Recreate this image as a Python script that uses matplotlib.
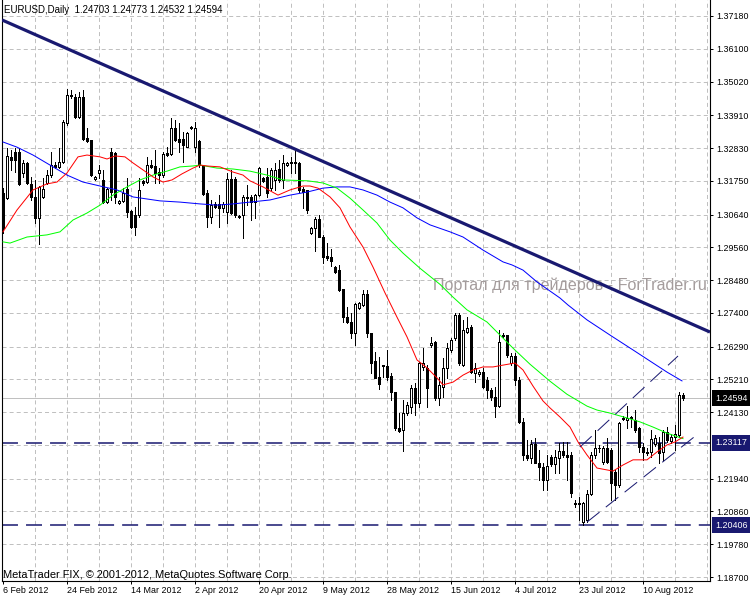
import matplotlib
matplotlib.use('Agg')
import matplotlib.pyplot as plt
import matplotlib.transforms as mtransforms
import numpy as np

plt.rcParams['lines.scale_dashes'] = False
plt.rcParams['font.family'] = ['Liberation Sans Narrow', 'Liberation Sans', 'DejaVu Sans']
plt.rcParams['font.size'] = 6.4

NAVY = '#191970'

# EURUSD daily bars, 6 Feb 2012 .. 21 Aug 2012 (broker feed with Sunday bars)
opens = [1.3135, 1.3118, 1.3254, 1.3270, 1.3270, 1.3201, 1.3234, 1.3165, 1.3122, 1.3053,
         1.3122, 1.3168, 1.3194, 1.3227, 1.3221, 1.3237, 1.3366, 1.3458, 1.3451, 1.3385,
         1.3451, 1.3316, 1.3310, 1.3181, 1.3201, 1.3178, 1.3105, 1.3270, 1.3267, 1.3102,
         1.3109, 1.3148, 1.3076, 1.3062, 1.3062, 1.3175, 1.3171, 1.3227, 1.3224, 1.3204,
         1.3194, 1.3267, 1.3263, 1.3349, 1.3313, 1.3313, 1.3286, 1.3352, 1.3286, 1.3306,
         1.3224, 1.3135, 1.3056, 1.3099, 1.3099, 1.3086, 1.3072, 1.3181, 1.3181, 1.3059,
         1.3062, 1.3122, 1.3122, 1.3105, 1.3128, 1.3184, 1.3188, 1.3151, 1.3178, 1.3214,
         1.3178, 1.3227, 1.3237, 1.3237, 1.3234, 1.3148, 1.3145, 1.3003, 1.3020, 1.3049,
         1.2990, 1.2927, 1.2924, 1.2891, 1.2881, 1.2819, 1.2726, 1.2710, 1.2674, 1.2756,
         1.2766, 1.2802, 1.2674, 1.2582, 1.2529, 1.2568, 1.2565, 1.2532, 1.2479, 1.2361,
         1.2354, 1.2410, 1.2430, 1.2493, 1.2443, 1.2562, 1.2559, 1.2634, 1.2644, 1.2460,
         1.2496, 1.2559, 1.2618, 1.2657, 1.2733, 1.2568, 1.2677, 1.2694, 1.2542, 1.2539,
         1.2545, 1.2519, 1.2486, 1.2463, 1.2433, 1.2667, 1.2667, 1.2575, 1.2598, 1.2519,
         1.2381, 1.2272, 1.2262, 1.2308, 1.2246, 1.2232, 1.2190, 1.2265, 1.2242, 1.2262,
         1.2285, 1.2272, 1.2272, 1.2114, 1.2114, 1.2051, 1.2058, 1.2143, 1.2272, 1.2295,
         1.2249, 1.2295, 1.2288, 1.2216, 1.2173, 1.2394, 1.2387, 1.2397, 1.2387, 1.2361,
         1.2298, 1.2282, 1.2282, 1.2308, 1.2311, 1.2282, 1.2348, 1.2318, 1.2331, 1.2338,
         1.24703]
highs = [1.3151, 1.3283, 1.3277, 1.3283, 1.3283, 1.3244, 1.3237, 1.3188, 1.3178, 1.3158,
         1.3184, 1.3211, 1.3270, 1.3237, 1.3283, 1.3375, 1.3478, 1.3474, 1.3461, 1.3468,
         1.3474, 1.3349, 1.3310, 1.3191, 1.3227, 1.3211, 1.3151, 1.3283, 1.3270, 1.3112,
         1.3151, 1.3184, 1.3079, 1.3089, 1.3184, 1.3178, 1.3254, 1.3244, 1.3277, 1.3217,
         1.3270, 1.3286, 1.3382, 1.3375, 1.3366, 1.3336, 1.3336, 1.3356, 1.3369, 1.3310,
         1.3227, 1.3145, 1.3112, 1.3105, 1.3128, 1.3105, 1.3201, 1.3211, 1.3188, 1.3062,
         1.3128, 1.3161, 1.3128, 1.3132, 1.3221, 1.3188, 1.3217, 1.3217, 1.3234, 1.3244,
         1.3260, 1.3237, 1.3254, 1.3280, 1.3237, 1.3155, 1.3145, 1.3023, 1.3056, 1.3062,
         1.2997, 1.2970, 1.2951, 1.2895, 1.2898, 1.2819, 1.2759, 1.2740, 1.2773, 1.2776,
         1.2815, 1.2815, 1.2674, 1.2611, 1.2595, 1.2568, 1.2618, 1.2542, 1.2479, 1.2410,
         1.2453, 1.2447, 1.2503, 1.2509, 1.2578, 1.2624, 1.2568, 1.2661, 1.2647, 1.2529,
         1.2591, 1.2641, 1.2657, 1.2740, 1.2740, 1.2717, 1.2726, 1.2700, 1.2575, 1.2552,
         1.2559, 1.2529, 1.2493, 1.2496, 1.2684, 1.2674, 1.2667, 1.2608, 1.2608, 1.2529,
         1.2394, 1.2321, 1.2321, 1.2328, 1.2288, 1.2246, 1.2272, 1.2272, 1.2288, 1.2311,
         1.2315, 1.2315, 1.2282, 1.2124, 1.2134, 1.2117, 1.2157, 1.2282, 1.2354, 1.2305,
         1.2302, 1.2328, 1.2295, 1.2223, 1.2381, 1.2400, 1.2433, 1.2400, 1.2420, 1.2364,
         1.2311, 1.2295, 1.2354, 1.2338, 1.2331, 1.2354, 1.2364, 1.2341, 1.2371, 1.2480,
         1.24773]
lows = [1.3003, 1.3115, 1.3211, 1.3204, 1.3161, 1.3188, 1.3165, 1.3112, 1.3036, 1.2967,
        1.3118, 1.3165, 1.3188, 1.3217, 1.3217, 1.3234, 1.3359, 1.3448, 1.3382, 1.3382,
        1.3310, 1.3303, 1.3191, 1.3178, 1.3184, 1.3102, 1.3102, 1.3112, 1.3102, 1.3099,
        1.3105, 1.3056, 1.3020, 1.2997, 1.3056, 1.3161, 1.3168, 1.3217, 1.3168, 1.3168,
        1.3188, 1.3257, 1.3260, 1.3306, 1.3270, 1.3237, 1.3286, 1.3346, 1.3270, 1.3221,
        1.3128, 1.3023, 1.3036, 1.3086, 1.3023, 1.3072, 1.3036, 1.3066, 1.3056, 1.3053,
        1.2987, 1.3095, 1.3046, 1.3053, 1.3125, 1.3171, 1.3122, 1.3145, 1.3145, 1.3171,
        1.3151, 1.3224, 1.3201, 1.3201, 1.3138, 1.3086, 1.3069, 1.3000, 1.2944, 1.2990,
        1.2904, 1.2914, 1.2895, 1.2871, 1.2812, 1.2710, 1.2707, 1.2657, 1.2634, 1.2753,
        1.2763, 1.2661, 1.2542, 1.2526, 1.2489, 1.2529, 1.2519, 1.2453, 1.2354, 1.2348,
        1.2285, 1.2404, 1.2410, 1.2404, 1.2430, 1.2552, 1.2430, 1.2628, 1.2453, 1.2437,
        1.2463, 1.2526, 1.2611, 1.2651, 1.2568, 1.2565, 1.2674, 1.2542, 1.2512, 1.2532,
        1.2493, 1.2460, 1.2453, 1.2397, 1.2430, 1.2661, 1.2595, 1.2568, 1.2503, 1.2377,
        1.2256, 1.2256, 1.2246, 1.2246, 1.2190, 1.2157, 1.2157, 1.2236, 1.2213, 1.2213,
        1.2265, 1.2190, 1.2134, 1.2101, 1.2058, 1.2041, 1.2051, 1.2140, 1.2262, 1.2282,
        1.2242, 1.2246, 1.2124, 1.2124, 1.2167, 1.2387, 1.2361, 1.2364, 1.2348, 1.2282,
        1.2256, 1.2272, 1.2265, 1.2302, 1.2246, 1.2256, 1.2315, 1.2311, 1.2288, 1.2331,
        1.24532]
closes = [1.3020, 1.3257, 1.3244, 1.3244, 1.3165, 1.3234, 1.3168, 1.3122, 1.3053, 1.3155,
          1.3148, 1.3194, 1.3227, 1.3221, 1.3237, 1.3369, 1.3458, 1.3454, 1.3385, 1.3451,
          1.3313, 1.3306, 1.3194, 1.3188, 1.3211, 1.3105, 1.3148, 1.3138, 1.3122, 1.3109,
          1.3135, 1.3072, 1.3023, 1.3023, 1.3145, 1.3168, 1.3227, 1.3221, 1.3201, 1.3194,
          1.3263, 1.3260, 1.3349, 1.3310, 1.3303, 1.3293, 1.3333, 1.3349, 1.3349, 1.3227,
          1.3132, 1.3056, 1.3095, 1.3089, 1.3086, 1.3099, 1.3181, 1.3069, 1.3062, 1.3056,
          1.3122, 1.3118, 1.3105, 1.3128, 1.3217, 1.3175, 1.3135, 1.3211, 1.3211, 1.3178,
          1.3234, 1.3234, 1.3234, 1.3234, 1.3145, 1.3138, 1.3079, 1.3020, 1.3049, 1.2990,
          1.2924, 1.2921, 1.2911, 1.2875, 1.2815, 1.2726, 1.2710, 1.2674, 1.2769, 1.2773,
          1.2802, 1.2674, 1.2575, 1.2526, 1.2506, 1.2565, 1.2529, 1.2479, 1.2361, 1.2351,
          1.2410, 1.2437, 1.2493, 1.2443, 1.2575, 1.2575, 1.2493, 1.2641, 1.2460, 1.2503,
          1.2559, 1.2624, 1.2651, 1.2733, 1.2575, 1.2684, 1.2690, 1.2545, 1.2559, 1.2545,
          1.2496, 1.2486, 1.2463, 1.2433, 1.2644, 1.2664, 1.2601, 1.2598, 1.2519, 1.2381,
          1.2272, 1.2262, 1.2308, 1.2246, 1.2232, 1.2190, 1.2236, 1.2242, 1.2265, 1.2285,
          1.2272, 1.2265, 1.2147, 1.2111, 1.2111, 1.2114, 1.2143, 1.2272, 1.2295, 1.2294,
          1.2295, 1.2249, 1.2180, 1.2173, 1.2377, 1.2391, 1.2394, 1.2394, 1.2354, 1.2298,
          1.2282, 1.2278, 1.2325, 1.2328, 1.2278, 1.2348, 1.2321, 1.2331, 1.2341, 1.2468,
          1.24594]

# moving averages (bar index -> price)
ma_fast_x = [0, 3.5, 7.5, 11, 13.5, 16, 18.75, 21, 24.25, 26, 28, 30.5, 32.5, 35, 37.5, 40,
             42.25, 44.75, 47.5, 49.25, 51, 54.25, 57.5, 60, 61.75, 65, 68.75, 71.75, 75,
             76.75, 78.75, 81.75, 84.25, 86.75, 90, 92.5, 95.5, 98.5, 101, 103.5, 106,
             108.5, 110, 112.5, 115, 117.5, 120, 122.5, 125, 128, 130, 132.5, 135, 136.75,
             139.25, 141.75, 143.75, 146, 148.5, 152.5, 155, 157.5, 161, 163.5, 166, 168, 170]
ma_fast_y = [1.3007, 1.3079, 1.3145, 1.3165, 1.3171, 1.3201, 1.3254, 1.3260, 1.3254, 1.3247,
             1.3257, 1.3254, 1.3234, 1.3211, 1.3188, 1.3171, 1.3178, 1.3198, 1.3217, 1.3227,
             1.3224, 1.3221, 1.3204, 1.3194, 1.3175, 1.3155, 1.3128, 1.3145, 1.3158, 1.3158,
             1.3151, 1.3122, 1.3086, 1.3023, 1.2957, 1.2891, 1.2806, 1.2726, 1.2661, 1.2585,
             1.2559, 1.2526, 1.2503, 1.2512, 1.2535, 1.2552, 1.2562, 1.2562, 1.2568, 1.2575,
             1.2552, 1.2499, 1.2450, 1.2427, 1.2397, 1.2364, 1.2315, 1.2272, 1.2229, 1.2219,
             1.2239, 1.2256, 1.2256, 1.2282, 1.2305, 1.2315, 1.2331]
ma_mid_x = [0, 1.75, 6, 11, 14.25, 17.5, 21, 24.25, 27.5, 31, 34.25, 37.5, 41, 44.25, 47.5,
            49.25, 53.5, 57.5, 61.75, 66, 70, 76.25, 80, 83.5, 86.75, 90, 93.5, 96.75, 100,
            104.25, 109.25, 112.5, 116, 121, 124.25, 127.5, 131.75, 136.75, 141, 146, 148.5,
            151.75, 156, 159.25, 162.5, 166, 170]
ma_mid_y = [1.2974, 1.2970, 1.2990, 1.2997, 1.3007, 1.3046, 1.3069, 1.3095, 1.3128, 1.3155,
            1.3178, 1.3194, 1.3207, 1.3221, 1.3224, 1.3227, 1.3217, 1.3214, 1.3207, 1.3194,
            1.3178, 1.3175, 1.3168, 1.3151, 1.3118, 1.3079, 1.3036, 1.2980, 1.2937, 1.2887,
            1.2834, 1.2792, 1.2750, 1.2710, 1.2667, 1.2624, 1.2571, 1.2515, 1.2472, 1.2433,
            1.2420, 1.2410, 1.2394, 1.2381, 1.2364, 1.2344, 1.2326]
ma_slow_x = [0, 3.5, 7.5, 11.75, 16, 20, 24.25, 28.5, 32.5, 39.25, 44.25, 49.25, 53.5, 57.5,
             61.75, 66.75, 71.75, 76, 80, 83.5, 86.75, 90, 93.5, 96.75, 100, 103.5, 106.75,
             111.75, 115, 120, 125, 127.25, 130, 133.5, 139.25, 141.25, 146, 151.75, 157.5,
             162.5, 166, 169.75]
ma_slow_y = [1.3303, 1.3286, 1.3260, 1.3227, 1.3194, 1.3171, 1.3158, 1.3145, 1.3122, 1.3109,
             1.3105, 1.3099, 1.3095, 1.3099, 1.3105, 1.3112, 1.3128, 1.3138, 1.3151, 1.3155,
             1.3155, 1.3145, 1.3128, 1.3105, 1.3086, 1.3053, 1.3030, 1.3007, 1.2990, 1.2947,
             1.2908, 1.2898, 1.2881, 1.2842, 1.2789, 1.2766, 1.2717, 1.2667, 1.2618, 1.2575,
             1.2545, 1.2516]

# drawn objects
trend_x = [-0.25, 176.75]
trend_y = [1.3705, 1.2677]
chan_low_x = [146, 172.75]
chan_low_y = [1.2051, 1.2331]
chan_up_x = [144.25, 168.75]
chan_up_y = [1.2298, 1.2598]
levels = [1.23117, 1.20406]

# axis
price_ticks = [1.37180, 1.36100, 1.35020, 1.33910, 1.32830, 1.31750, 1.30640, 1.29560,
               1.28480, 1.27400, 1.26290, 1.25210, 1.24130, 1.21940, 1.20860, 1.19780, 1.18700]
hidden_grid = [1.23040]
date_bars = [0, 16, 32, 48, 64, 80, 96, 112, 128, 144, 160]
date_labels = ['6 Feb 2012', '24 Feb 2012', '14 Mar 2012', '2 Apr 2012', '20 Apr 2012',
               '9 May 2012', '28 May 2012', '15 Jun 2012', '4 Jul 2012', '23 Jul 2012',
               '10 Aug 2012']

header = 'EURUSD,Daily  1.24703 1.24773 1.24532 1.24594'
footer = 'MetaTrader FIX, \u00a9 2001-2012, MetaQuotes Software Corp.'
watermark = 'Портал для трейдеров - ForTrader.ru'

fig = plt.figure(figsize=(7.5, 6), dpi=100)
ax = fig.add_axes([2 / 750, 19 / 600, 708 / 750, 581 / 600])
ax.set_xlim(-0.25, 176.75)
ax.set_ylim(1.18569, 1.37707)

# grid
grid_ls = (0, (2.9, 2.2))
for p in price_ticks + hidden_grid:
    ax.axhline(p, color='#c0c0c0', lw=0.72, ls=grid_ls, zorder=0)
for b in range(8, 177, 8):
    ax.axvline(b, color='#c0c0c0', lw=0.72, ls=grid_ls, zorder=0)

ax.text(431 / 708, (581 - 285) / 581, watermark, transform=ax.transAxes,
        fontsize=11.6, family=['Liberation Sans', 'DejaVu Sans'], color='#a49c9c',
        va='center', ha='left', zorder=1)

# bid line and horizontal levels
ax.axhline(closes[-1], color='#c0c0c0', lw=0.72, zorder=1)
for p in levels:
    ax.axhline(p, color=NAVY, lw=1.1, ls=(0, (11.5, 5.8)), zorder=2)

# candles
o = np.array(opens)
h = np.array(highs)
l = np.array(lows)
c = np.array(closes)
x = np.arange(len(o))
up = c >= o
ax.vlines(x, l, h, color='black', lw=0.72, zorder=3, antialiased=False)
ax.bar(x, np.abs(c - o), 0.6, np.minimum(o, c), color=np.where(up, 'white', 'black'),
       edgecolor='black', linewidth=0.72, zorder=4, antialiased=False)

# indicators
ax.plot(ma_slow_x, ma_slow_y, color='#0000ff', lw=0.72, zorder=5)
ax.plot(ma_mid_x, ma_mid_y, color='#00ff00', lw=0.72, zorder=5)
ax.plot(ma_fast_x, ma_fast_y, color='#ff0000', lw=0.72, zorder=5)

# objects
ax.plot(trend_x, trend_y, color=NAVY, lw=2.3, zorder=6, solid_capstyle='butt')
ax.plot(chan_low_x, chan_low_y, color=NAVY, lw=0.72, ls=(0, (11.5, 5.8)), zorder=6)
ax.plot(chan_up_x, chan_up_y, color=NAVY, lw=0.72, ls=(0, (11.5, 5.8)), zorder=6)

# axes
ax.yaxis.tick_right()
ax.set_yticks(price_ticks)
ax.set_yticklabels(['%.5f' % p for p in price_ticks])
ax.tick_params(axis='y', direction='out', length=2.2, width=0.72, pad=2.0, colors='black')
ax.set_xticks(date_bars)
ax.set_xticklabels(date_labels, ha='left')
ax.tick_params(axis='x', direction='out', length=2.2, width=0.72, pad=1.5)
ax.spines['top'].set_visible(False)
for s in ['left', 'right', 'bottom']:
    ax.spines[s].set_linewidth(0.8)

trans = mtransforms.blended_transform_factory(ax.transAxes, ax.transData)
for p, fc in [(closes[-1], 'black'), (levels[0], NAVY), (levels[1], NAVY)]:
    ax.text(713.5 / 708, p, '%.5f' % p, transform=trans, color='white', va='center',
            ha='left', clip_on=False, zorder=10,
            bbox=dict(boxstyle='square,pad=0.4', fc=fc, ec='none'))

fig.text(4 / 750, 1 - 10 / 600, header, va='center', ha='left', fontsize=7)
fig.text(3 / 750, 1 - 575 / 600, footer, va='center', ha='left', fontsize=7.9)

fig.savefig('out.png', dpi=100, facecolor='white')
